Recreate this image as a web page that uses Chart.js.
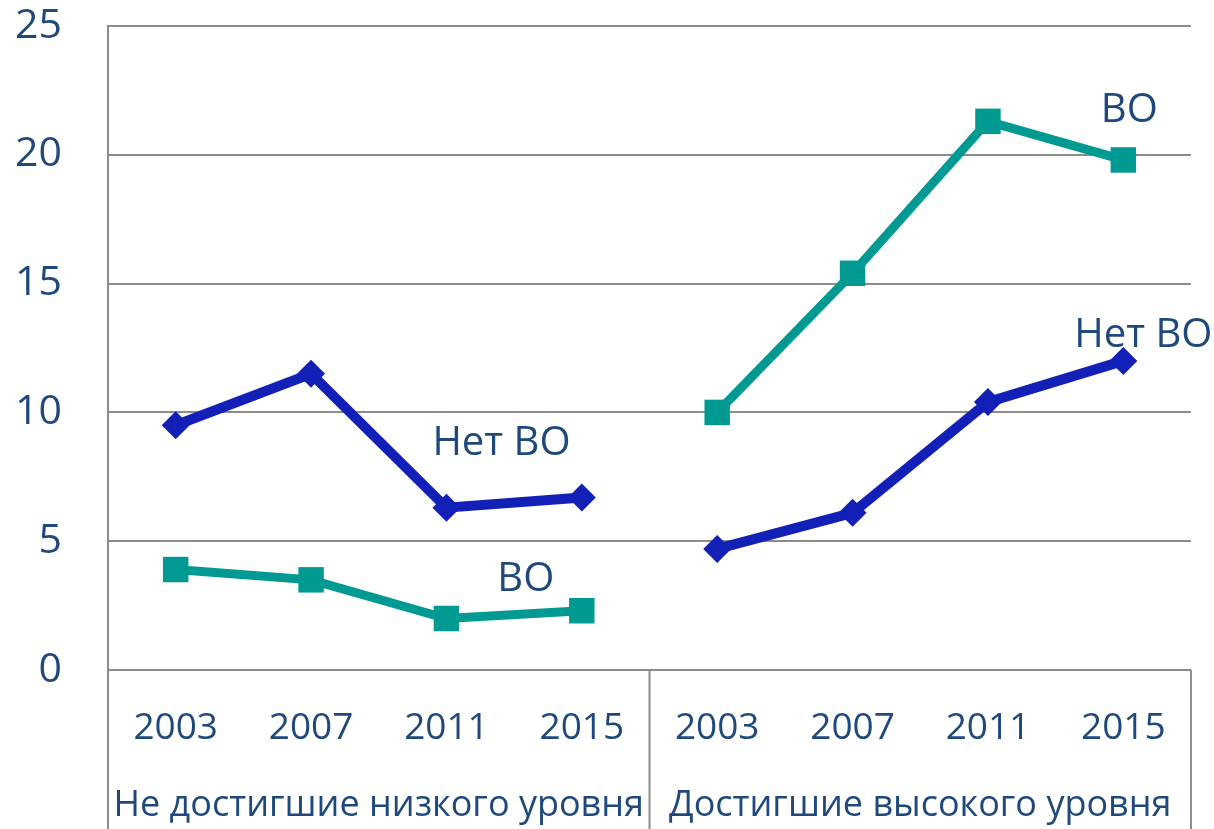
<!DOCTYPE html>
<html>
<head>
<meta charset="utf-8">
<script src="https://cdn.jsdelivr.net/npm/chart.js@4.4.1/dist/chart.umd.min.js"></script>
<style>
  html, body { margin: 0; padding: 0; background: #fff; }
  #wrap { width: 1214px; height: 829px; position: relative; }
</style>
</head>
<body>
<div id="wrap"><canvas id="chart"></canvas></div>
<script>
// данные
const years = ['2003', '2007', '2011', '2015', '2003', '2007', '2011', '2015'];
const groups = ['Не достигшие низкого уровня', 'Достигшие высокого уровня'];
const netVO = [9.5, 11.5, 6.3, 6.7, 4.7, 6.1, 10.4, 12.0];
const withVO = [3.9, 3.5, 2.0, 2.3, 10.0, 15.4, 21.3, 19.8];
const yTicks = [0, 5, 10, 15, 20, 25];

// подписи рядов: [текст, индекс категории, сдвиг по x, значение по y]
const seriesNotes = [
    ['Нет ВО', 2, 55, 8.8],
    ['ВО', 3, -56, 3.5],
    ['ВО', 7, 6, 21.7],
    ['Нет ВО', 7, 20, 13.0]
];

const TEXT = '#1F497D';
const GRID = '#8C8C8C';
const BLUE = '#1320B8';
const TEAL = '#009A93';
const FONT = "'Open Sans', sans-serif";

const gapSegment = color => ctx => ctx.p0DataIndex === 3 ? 'rgba(0,0,0,0)' : color;

const framePlugin = {
    id: 'frame',
    afterDraw(chart) {
        const c = chart.ctx;
        const area = chart.chartArea;
        const xs = chart.scales.x;
        const ys = chart.scales.y;
        const bottom = chart.height;
        const step = xs.getPixelForValue(1) - xs.getPixelForValue(0);
        const mid = xs.getPixelForValue(3) + step / 2;

        c.save();
        c.strokeStyle = GRID;
        c.lineWidth = 2;
        c.beginPath();
        c.moveTo(area.left, area.top);
        c.lineTo(area.left, bottom);
        c.moveTo(mid, area.bottom);
        c.lineTo(mid, bottom);
        c.moveTo(area.right, area.bottom);
        c.lineTo(area.right, bottom);
        c.stroke();

        c.fillStyle = TEXT;
        c.textAlign = 'center';
        c.textBaseline = 'middle';
        c.font = '36px ' + FONT;
        c.fillText(groups[0], (area.left + mid) / 2, 806);
        c.fillText(groups[1], (mid + area.right) / 2, 806);

        c.font = '40px ' + FONT;
        seriesNotes.forEach(n => {
            c.fillText(n[0], xs.getPixelForValue(n[1]) + n[2], ys.getPixelForValue(n[3]));
        });
        c.restore();
    }
};

new Chart(document.getElementById('chart'), {
    type: 'line',
    data: {
        labels: years,
        datasets: [{
            label: 'Нет ВО',
            data: netVO,
            borderColor: BLUE,
            backgroundColor: BLUE,
            borderWidth: 10,
            pointStyle: 'rectRot',
            pointRadius: 14,
            pointHoverRadius: 14,
            pointBorderWidth: 0,
            segment: { borderColor: gapSegment(BLUE) }
        }, {
            label: 'ВО',
            data: withVO,
            borderColor: TEAL,
            backgroundColor: TEAL,
            borderWidth: 9,
            pointStyle: 'rect',
            pointRadius: 18,
            pointHoverRadius: 18,
            pointBorderWidth: 0,
            segment: { borderColor: gapSegment(TEAL) }
        }]
    },
    options: {
        responsive: true,
        maintainAspectRatio: false,
        animation: false,
        layout: { padding: { top: 26, right: 23, left: 0, bottom: 0 } },
        plugins: {
            legend: { display: false },
            tooltip: { enabled: false }
        },
        scales: {
            x: {
                offset: true,
                grid: { display: false },
                border: { display: false },
                ticks: {
                    color: TEXT,
                    font: { family: FONT, size: 37 },
                    maxRotation: 0,
                    autoSkip: false,
                    padding: 28
                },
                afterFit: s => {
                    s.height = 159;
                    s.paddingLeft = 0;
                    s.paddingRight = 0;
                }
            },
            y: {
                min: 0,
                max: 25,
                afterBuildTicks: s => { s.ticks = yTicks.map(v => ({ value: v })); },
                grid: { color: GRID, lineWidth: 2, drawTicks: false },
                border: { display: true, color: GRID, width: 2 },
                ticks: {
                    color: TEXT,
                    font: { family: FONT, size: 41 },
                    padding: 46
                },
                afterFit: s => {
                    s.width = 108;
                    s.paddingTop = 0;
                    s.paddingBottom = 0;
                }
            }
        }
    },
    plugins: [framePlugin]
});
</script>
</body>
</html>
